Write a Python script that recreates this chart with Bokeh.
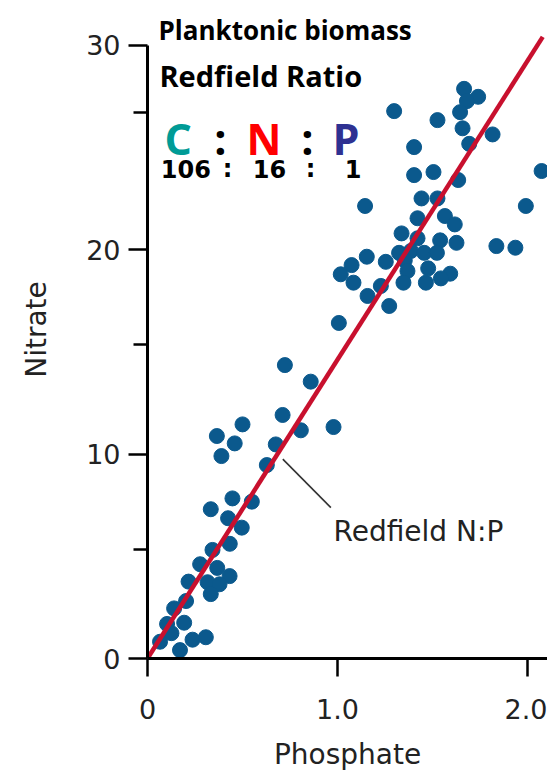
from bokeh.plotting import figure
from bokeh.models import Range1d, FixedTicker, Label
from bokeh.embed import file_html
from bokeh.resources import INLINE

# ---- data ----
phosphate = [1.666, 1.740, 1.681, 1.298, 1.645, 1.526, 1.658, 1.816, 1.693, 1.403,
             2.074, 1.403, 1.505, 1.635, 1.442, 1.526, 1.145, 1.991, 1.565, 1.421,
             1.617, 1.337, 1.421, 1.540, 1.626, 1.836, 1.936, 1.324, 1.386, 1.456,
             1.523, 1.154, 1.254, 1.354, 1.074, 1.477, 1.368, 1.593, 1.544, 1.017,
             1.084, 1.228, 1.347, 1.465, 1.158, 1.272, 1.007, 0.723, 0.859, 0.711,
             0.500, 0.807, 0.979, 0.365, 0.459, 0.675, 0.389, 0.628, 0.447, 0.549,
             0.333, 0.424, 0.496, 0.433, 0.342, 0.277, 0.367, 0.432, 0.216, 0.316,
             0.379, 0.333, 0.203, 0.140, 0.103, 0.193, 0.126, 0.237, 0.307, 0.066,
             0.171]
nitrate = [27.86, 27.47, 27.26, 26.77, 26.72, 26.33, 25.93, 25.63, 25.17, 25.01,
           23.84, 23.64, 23.79, 23.40, 22.50, 22.50, 22.13, 22.13, 21.64, 21.53,
           21.23, 20.79, 20.55, 20.45, 20.33, 20.17, 20.09, 19.84, 19.93, 19.84,
           19.84, 19.65, 19.40, 19.47, 19.24, 19.08, 18.95, 18.82, 18.59, 18.79,
           18.38, 18.22, 18.38, 18.38, 17.73, 17.24, 16.41, 14.35, 13.54, 11.91,
           11.45, 11.16, 11.32, 10.88, 10.52, 10.47, 9.90, 9.46, 7.83, 7.67,
           7.30, 6.86, 6.40, 5.61, 5.31, 4.61, 4.43, 4.03, 3.76, 3.73,
           3.63, 3.15, 2.81, 2.45, 1.69, 1.75, 1.24, 0.92, 1.04, 0.82,
           0.41]

redfield_x = [0.0, 2.08]
redfield_y = [0.0, 30.4]

x_ticks = [0, 1, 2]
x_tick_labels = ["0", "1.0", "2.0"]
y_ticks = [0, 10, 20, 30]
y_minor_ticks = [5.35, 15.37, 26.7]

ratio_letters = ["C", "N", "P"]
ratio_values = ["106", "16", "1"]

# ---- figure ----
p = figure(width=547, height=774, output_backend="svg", toolbar_location=None,
           x_range=Range1d(0, 2.105), y_range=Range1d(0, 32.18),
           min_border_left=147, min_border_right=0, min_border_top=0,
           min_border_bottom=116, background_fill_color="white")
p.outline_line_color = None
p.xgrid.visible = False
p.ygrid.visible = False

ink = "#222222"
tick_font = "DejaVu Sans"

p.xaxis.ticker = FixedTicker(ticks=x_ticks)
p.xaxis.major_label_overrides = dict(zip(x_ticks, x_tick_labels))
p.yaxis.ticker = FixedTicker(ticks=y_ticks, minor_ticks=y_minor_ticks)
p.yaxis.bounds = (0, 30)

for ax in (p.xaxis[0], p.yaxis[0]):
    ax.axis_line_width = 3
    ax.axis_line_color = "black"
    ax.major_tick_line_width = 2.5
    ax.major_tick_line_color = "black"
    ax.major_tick_in = 0
    ax.major_label_text_font = tick_font
    ax.major_label_text_font_size = "27px"
    ax.major_label_text_line_height = 1.0
    ax.major_label_text_color = ink
    ax.axis_label_text_font = tick_font
    ax.axis_label_text_font_size = "28px"
    ax.axis_label_text_line_height = 1.0
    ax.axis_label_text_font_style = "normal"
    ax.axis_label_text_color = ink

p.xaxis.axis_label = "Phosphate"
p.yaxis.axis_label = "Nitrate"
p.xaxis.major_tick_out = 18
p.xaxis.minor_tick_line_color = None
p.xaxis.major_label_standoff = 22
p.xaxis.axis_label_standoff = 16
p.yaxis.major_tick_out = 19
p.yaxis.minor_tick_out = 14
p.yaxis.minor_tick_in = 0
p.yaxis.minor_tick_line_width = 2.5
p.yaxis.minor_tick_line_color = "black"
p.yaxis.major_label_standoff = 8
p.yaxis.axis_label_standoff = 30

# data
p.scatter(phosphate, nitrate, size=15, fill_color="#0B598D", line_color="#0B598D")
p.line(redfield_x, redfield_y, line_width=4.5, line_color="#C8102E")

# callout
p.segment(x0=[0.712], y0=[9.75], x1=[0.965], y1=[7.38], line_color="#333333", line_width=1.6)
p.add_layout(Label(x=0.979, y=6.2, text="Redfield N:P", text_font=tick_font,
                   text_font_size="28px", text_color=ink, text_baseline="alphabetic"))

# header texts
bold = "Open Sans"
p.add_layout(Label(x=0.058, y=30.76, text="Planktonic biomass", text_font=bold,
                   text_font_style="bold", text_font_size="26px", text_color="black",
                   text_baseline="alphabetic"))
p.add_layout(Label(x=0.063, y=28.51, text="Redfield Ratio", text_font=bold,
                   text_font_style="bold", text_font_size="29px", text_color="black",
                   text_baseline="alphabetic"))

letter_colors = ["#009B96", "#FF0000", "#2E3192"]
letter_x = [0.090, 0.521, 0.974]
for t, c, xx in zip(ratio_letters, letter_colors, letter_x):
    p.add_layout(Label(x=xx, y=25.43, text=t, text_font=bold, text_font_style="bold",
                       text_font_size="43px", text_color=c, text_baseline="alphabetic"))
for xx in (0.384, 0.842):
    p.add_layout(Label(x=xx, y=25.43, text=":", text_font=bold, text_font_style="bold",
                       text_font_size="43px", text_color="black", text_align="center",
                       text_baseline="alphabetic"))

digits = "DejaVu Sans"
value_x = [0.070, 0.554, 1.038]
for t, xx in zip(ratio_values, value_x):
    p.add_layout(Label(x=xx, y=23.94, text=t, text_font=digits, text_font_style="bold",
                       text_font_size="24px", text_color="black", text_baseline="alphabetic"))
for xx in (0.421, 0.858):
    p.add_layout(Label(x=xx, y=23.94, text=":", text_font=digits, text_font_style="bold",
                       text_font_size="24px", text_color="black", text_align="center",
                       text_baseline="alphabetic"))

open("out.html", "w").write(file_html(p, INLINE))
